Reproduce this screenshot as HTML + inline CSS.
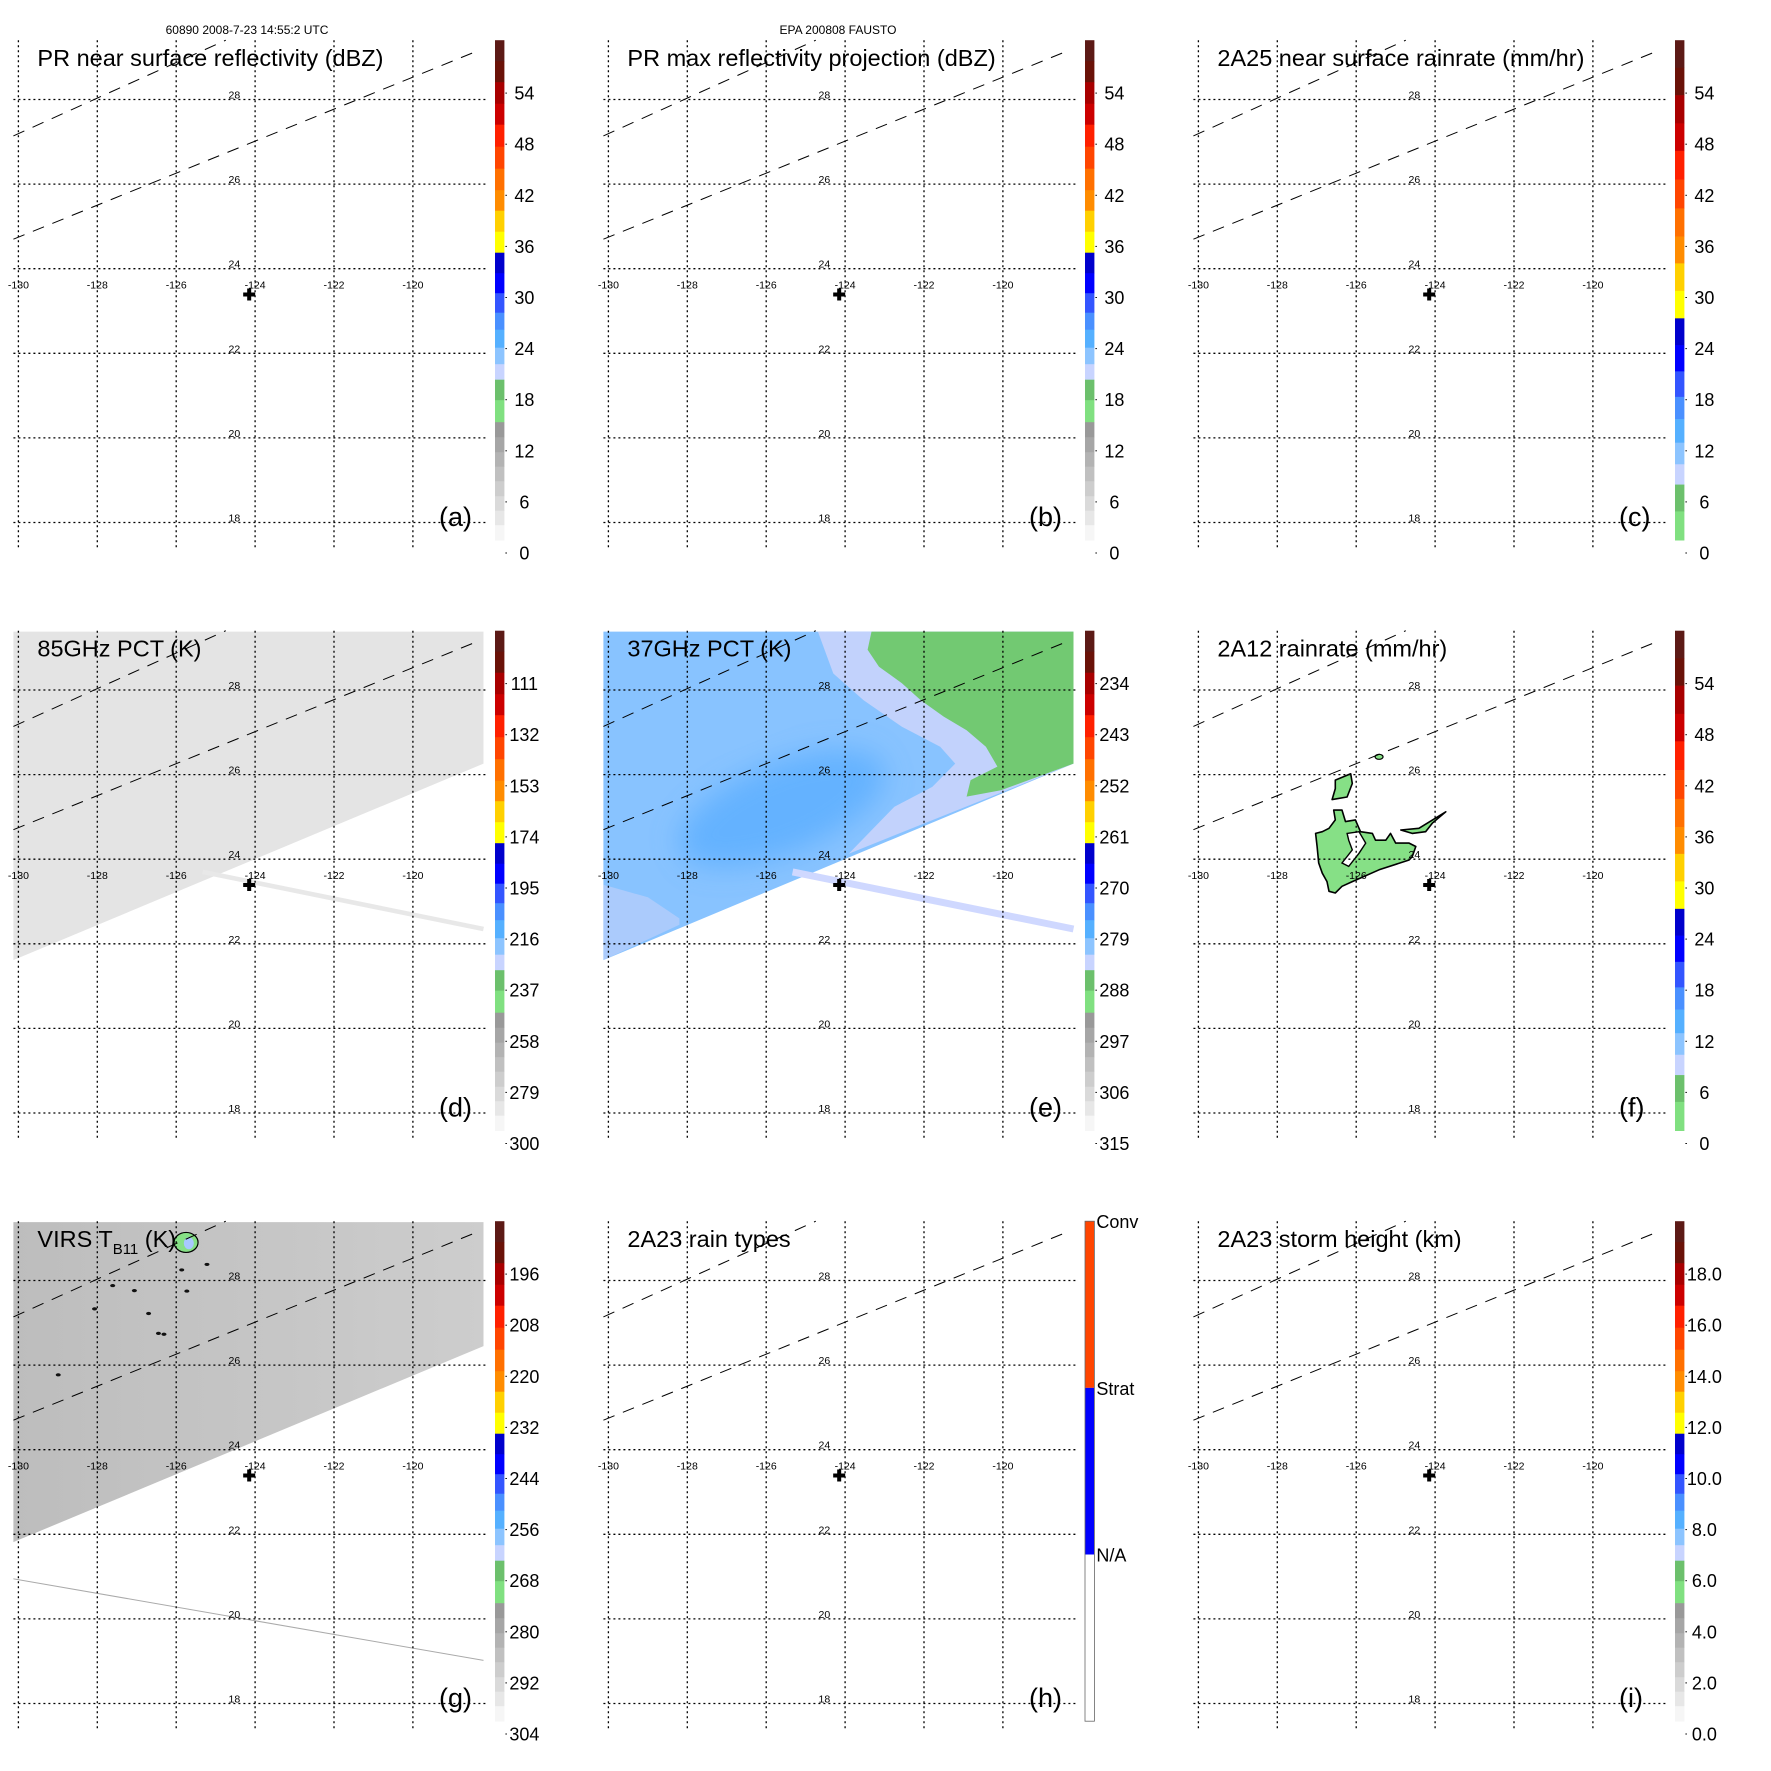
<!DOCTYPE html>
<html><head><meta charset="utf-8"><title>TRMM overpass 9-panel</title>
<style>html,body{margin:0;padding:0;background:#fff}svg{display:block}text{font-family:"Liberation Sans",Arial,sans-serif}</style>
</head><body>
<svg id="fig" xmlns="http://www.w3.org/2000/svg" width="1771" height="1771" viewBox="0 0 1771 1771">
<defs><filter id="blur" x="-30%" y="-30%" width="160%" height="160%"><feGaussianBlur stdDeviation="14"/></filter>
<linearGradient id="virsGrad" x1="0" x2="1" y1="0" y2="0"><stop offset="0" stop-color="#bdbdbd"/><stop offset="1" stop-color="#cdcdcd"/></linearGradient></defs>
<text x="247" y="34" font-size="12" text-anchor="middle">60890 2008-7-23 14:55:2 UTC</text>
<text x="838" y="34" font-size="12" text-anchor="middle">EPA 200808 FAUSTO</text>
</svg>
<script>
const lonTicks = [-130, -128, -126, -124, -122, -120];
const latTicks = [28, 26, 24, 22, 20, 18];
const dbzTicks = ['54','48','42','36','30','24','18','12','6','0'];
const pct85Ticks = ['111','132','153','174','195','216','237','258','279','300'];
const pct37Ticks = ['234','243','252','261','270','279','288','297','306','315'];
const virsTicks = ['196','208','220','232','244','256','268','280','292','304'];
const heightTicks = ['18.0','16.0','14.0','12.0','10.0','8.0','6.0','4.0','2.0','0.0'];
const rainTypeLabels = ['Conv','Strat','N/A'];
const swath = [[-130.14,29.38],[-118.21,29.38],[-118.21,26.26],[-130.14,21.61]];
const swathVirs = [[-130.14,29.38],[-118.21,29.38],[-118.21,26.45],[-130.14,21.81]];
const subLine = [[-125.33,23.70],[-118.21,22.35]];
const virsLine = [[-130.14,20.95],[-118.21,19.02]];
const greenZone37 = [[-123.33,29.38],[-118.21,29.38],[-118.21,26.26],[-120.05,25.63],[-120.92,25.48],[-120.82,25.87],[-120.14,26.19],[-120.43,26.66],[-120.92,27.05],[-121.5,27.37],[-122.08,27.76],[-122.56,28.16],[-123.14,28.55],[-123.43,28.95]];
const lavZone37 = [[-124.69,29.38],[-118.21,29.38],[-118.21,26.26],[-123.91,24.13],[-122.75,25.24],[-121.79,25.71],[-121.21,26.26],[-121.59,26.66],[-122.56,27.13],[-123.53,27.76],[-124.3,28.39]];
const lavLow37 = [[-130.14,23.4],[-129.0,23.1],[-128.2,22.6],[-128.2,22.45],[-130.14,21.61]];
const rainBlob = [[-127.03,24.61],[-126.86,24.65],[-126.69,24.73],[-126.53,24.93],[-126.57,25.16],[-126.36,25.16],[-126.27,24.89],[-126.02,24.93],[-125.89,24.65],[-125.59,24.61],[-125.51,24.45],[-125.25,24.45],[-125.13,24.61],[-125.0,24.38],[-124.66,24.38],[-124.49,24.30],[-124.58,24.06],[-124.66,23.98],[-125.42,23.75],[-126.10,23.47],[-126.36,23.36],[-126.53,23.20],[-126.69,23.24],[-126.74,23.47],[-126.86,23.67],[-126.95,23.91],[-126.99,24.30]];
const rainHole = [[-126.23,24.61],[-125.93,24.65],[-125.76,24.38],[-125.93,24.14],[-126.19,23.83],[-126.36,23.91],[-126.10,24.22],[-126.19,24.45]];
const rainUpper = [[-126.53,25.87],[-126.14,26.02],[-126.10,25.79],[-126.23,25.47],[-126.61,25.41],[-126.53,25.67]];
const rainSpike = [[-124.87,24.69],[-124.41,24.73],[-123.73,25.12],[-124.07,24.85],[-124.24,24.65],[-124.58,24.61]];
const virsSpecks = [[-127.61,27.88],[-127.06,27.76],[-126.70,27.22],[-126.31,26.73],[-125.73,27.75],[-125.22,28.38],[-125.86,28.25],[-128.99,25.77],[-128.07,27.33],[-126.45,26.75]];
const stormCenter = [-124.15, 23.39];

const NS = 'http://www.w3.org/2000/svg';
const svg = document.getElementById('fig');
function mk(tag, attrs, parent){const e=document.createElementNS(NS,tag);for(const k in attrs)e.setAttribute(k,attrs[k]);(parent||svg).appendChild(e);return e;}

const palA = [[0,.042,'#5c1a16'],[.042,.084,'#6a1208'],[.084,.127,'#a80000'],[.127,.169,'#cc0000'],[.169,.213,'#ff2000'],[.213,.257,'#ff4500'],[.257,.30,'#ff7000'],[.30,.341,'#ff8c00'],[.341,.383,'#ffd000'],[.383,.425,'#ffff00'],[.425,.466,'#0000cc'],[.466,.506,'#0000ff'],[.506,.545,'#3355ff'],[.545,.579,'#4a90ff'],[.579,.615,'#55b0ff'],[.615,.648,'#8cc4ff'],[.648,.679,'#c8d4ff'],[.679,.72,'#6cc06c'],[.72,.764,'#80e080'],[.764,.794,'#999'],[.794,.824,'#a6a6a6'],[.824,.853,'#b3b3b3'],[.853,.882,'#c0c0c0'],[.882,.912,'#cdcdcd'],[.912,.941,'#dadada'],[.941,.97,'#e7e7e7'],[.97,1,'#f6f6f6']];
const palC = palA.filter(p=>p[0]<.764).map(p=>[p[0]/.764,p[1]/.764,p[2]]);

const panels = [
 {c:0,r:0,title:'PR near surface reflectivity (dBZ)',tag:'(a)',ticks:dbzTicks,pal:palA,kind:'empty'},
 {c:1,r:0,title:'PR max reflectivity projection (dBZ)',tag:'(b)',ticks:dbzTicks,pal:palA,kind:'empty'},
 {c:2,r:0,title:'2A25 near surface rainrate (mm/hr)',tag:'(c)',ticks:dbzTicks,pal:palC,kind:'empty'},
 {c:0,r:1,title:'85GHz PCT (K)',tag:'(d)',ticks:pct85Ticks,pal:palA,kind:'pct85'},
 {c:1,r:1,title:'37GHz PCT (K)',tag:'(e)',ticks:pct37Ticks,pal:palA,kind:'pct37'},
 {c:2,r:1,title:'2A12 rainrate (mm/hr)',tag:'(f)',ticks:dbzTicks,pal:palC,kind:'rain'},
 {c:0,r:2,title:'VIRS',tag:'(g)',ticks:virsTicks,pal:palA,kind:'virs'},
 {c:1,r:2,title:'2A23 rain types',tag:'(h)',ticks:null,pal:null,kind:'types'},
 {c:2,r:2,title:'2A23 storm height (km)',tag:'(i)',ticks:heightTicks,pal:palA,kind:'empty'}
];

panels.forEach((p,pi)=>{
 const ox = 13.4 + p.c*590, oy = 40.2 + p.r*590.5;
 const X = lon => ox + 5 + (lon+130)*39.45;
 const Y = lat => oy + 59.3 + (28-lat)*42.3;
 const pts = arr => arr.map(q=>X(q[0]).toFixed(1)+','+Y(q[1]).toFixed(1)).join(' ');
 const g = mk('g',{});
 
 
 const cid='clip'+pi;
 const cp = mk('clipPath',{id:cid},g); mk('rect',{x:ox,y:oy,width:472.6,height:500},cp);
 const data = mk('g',{'clip-path':'url(#'+cid+')'},g);
 
 
 if(p.kind==='pct85'){
  const s=mk('polygon',{points:pts(swath),fill:'#e4e4e4'},data);
  
  
  const l=mk('polyline',{points:pts(subLine),stroke:'#e8e8e8','stroke-width':4.6,fill:'none'},data);
  
  
 }
 if(p.kind==='pct37'){
  const s=mk('polygon',{points:pts(swath),fill:'#88c3ff'},data);
  
  
  const e=mk('ellipse',{cx:X(-125.6),cy:Y(25.2),rx:110,ry:45,fill:'#55abff',opacity:.7,filter:'url(#blur)',transform:'rotate(-22 '+X(-125.6)+' '+Y(25.2)+')'},data);
  
  
  const lv=mk('polygon',{points:pts(lavZone37),fill:'#c2d2fc'},data);
  
  
  const gr=mk('polygon',{points:pts(greenZone37),fill:'#72c972'},data);
  
  
  const ll=mk('polygon',{points:pts(lavLow37),fill:'#b4cdfb',opacity:.8},data);
  
  
  const l=mk('polyline',{points:pts(subLine),stroke:'#cfd8ff','stroke-width':7,fill:'none'},data);
  
  
 }
 if(p.kind==='rain'){
  [rainBlob,rainUpper,rainSpike].forEach((b,bi)=>{
   const r=mk('polygon',{points:pts(b),fill:'#86e086',stroke:'#000','stroke-width':1.6,'stroke-linejoin':'round'},data);
   
   
  });
  const h=mk('polygon',{points:pts(rainHole),fill:'#fff',stroke:'#000','stroke-width':1.4},data);
  
  
  const sm=mk('ellipse',{cx:X(-125.42),cy:Y(26.42),rx:4,ry:2.5,fill:'#86e086',stroke:'#000','stroke-width':1.2},data);
  
  
 }
 if(p.kind==='virs'){
  const s=mk('polygon',{points:pts(swathVirs),fill:'url(#virsGrad)'},data);
  
  
  const l=mk('polyline',{points:pts(virsLine),stroke:'#aaa','stroke-width':1,fill:'none'},data);
  
  
  const cl=mk('ellipse',{cx:X(-125.75),cy:Y(28.9),rx:12,ry:10,fill:'#86e086',stroke:'#000','stroke-width':1.2},data);
  
  
  const cb=mk('ellipse',{cx:X(-125.68),cy:Y(28.88),rx:5,ry:6,fill:'#a8c8ff'},data);
  
  
  virsSpecks.forEach(q=>{
   const d=mk('ellipse',{cx:X(q[0]),cy:Y(q[1]),rx:2.5,ry:1.6,fill:'#111'},data);
   
   
  });
 }
 lonTicks.forEach(lon=>{
  const v=mk('line',{x1:X(lon),x2:X(lon),y1:oy,y2:oy+509,stroke:'#000','stroke-width':1.3,'stroke-dasharray':'2,3'},g);
  
  
  const t=mk('text',{x:X(lon),y:Y(24)+20,'font-size':10.5,'text-anchor':'middle'},g);
  
  
  t.textContent=lon;
 });
 latTicks.forEach(lat=>{
  const h=mk('line',{x1:ox,x2:ox+472.6,y1:Y(lat),y2:Y(lat),stroke:'#000','stroke-width':1.3,'stroke-dasharray':'2,3'},g);
  
  
  const t=mk('text',{x:ox+221,y:Y(lat)-1,'font-size':10.5,'text-anchor':'middle'},g);
  
  
  t.textContent=lat;
 });
 const d1=mk('line',{x1:ox,y1:oy+95.7,x2:ox+212.4,y2:oy,stroke:'#000','stroke-width':1,'stroke-dasharray':'12,9'},g);
 
 
 const d2=mk('line',{x1:ox,y1:oy+199,x2:ox+466.9,y2:oy+9.6,stroke:'#000','stroke-width':1,'stroke-dasharray':'12,9'},g);
 
 
 const cx=X(stormCenter[0]), cy=Y(stormCenter[1]);
 const cr=mk('path',{d:`M${cx-6},${cy}H${cx+6}M${cx},${cy-6}V${cy+6}`,stroke:'#000','stroke-width':4},g);
 
 
 const tt=mk('text',{x:ox+24,y:oy+26,'font-size':23.5},g);
 
 
 if(p.kind==='virs'){
  tt.appendChild(document.createTextNode('VIRS T'));
  const sub=mk('tspan',{'font-size':15,dy:7},tt); sub.textContent='B11';
  const rest=mk('tspan',{dy:-7},tt); rest.textContent=' (K)';
 } else tt.textContent=p.title;
 const tg=mk('text',{x:ox+425.6,y:oy+486,'font-size':27},g);
 
 
 tg.textContent=p.tag;
 const cb=mk('g',{},g);
 
 
 const bx=ox+481.6, bw=9.4, bh=500;
 if(p.kind==='types'){
  const cols=['#ff4500','#0000ff','#ffffff'];
  cols.forEach((c,i)=>{
   const r=mk('rect',{x:bx,y:oy+i*bh/3,width:bw,height:bh/3,fill:c},cb);
   
   
  });
  const fr=mk('rect',{x:bx,y:oy,width:bw,height:bh,fill:'none',stroke:'#666','stroke-width':.8},cb);
  
  
  rainTypeLabels.forEach((s,i)=>{
   const t=mk('text',{x:bx+bw+2,y:oy+i*bh/3+7,'font-size':18},cb);
   
   
   t.textContent=s;
  });
 } else {
  p.pal.forEach(s=>{
   const r=mk('rect',{x:bx,y:oy+s[0]*bh,width:bw,height:(s[1]-s[0])*bh+0.3,fill:s[2]},cb);
   
   
  });
  p.ticks.forEach((s,k)=>{
   const y=oy+52.9+k*51.1;
   const tk=mk('line',{x1:ox+492,x2:ox+493.5,y1:y,y2:y,stroke:'#000','stroke-width':1},cb);
   
   
   const t=mk('text',{x:ox+511,y:y+6.5,'font-size':18,'text-anchor':'middle'},cb);
   
   
   t.textContent=s;
  });
 }
});
</script>
</body></html>
